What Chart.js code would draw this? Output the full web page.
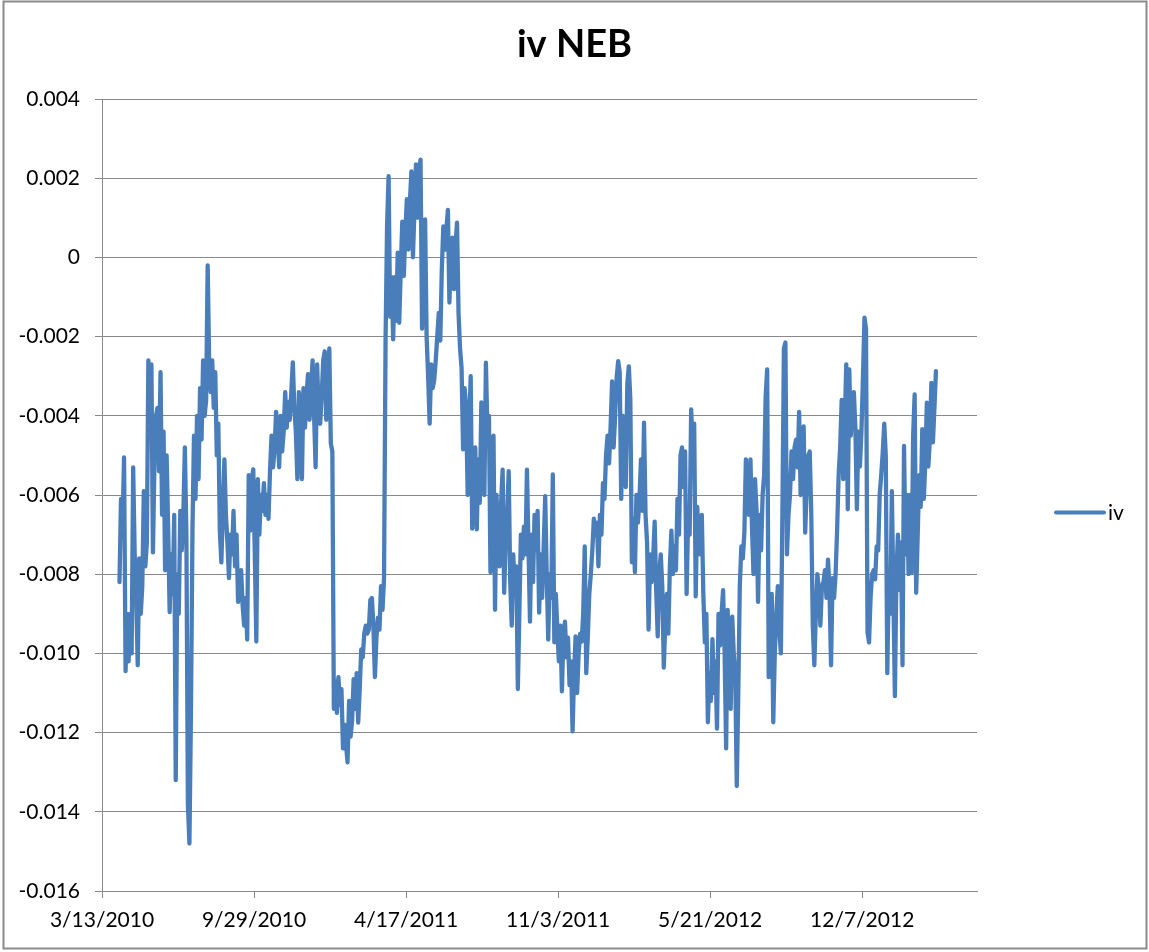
<!DOCTYPE html>
<html>
<head>
<meta charset="utf-8">
<script src="https://cdn.jsdelivr.net/npm/chart.js@4.4.1/dist/chart.umd.min.js"></script>
<style>
  html, body { margin: 0; padding: 0; background: #ffffff; }
  #wrap { width: 1149px; height: 952px; position: relative; }
  canvas { display: block; }
</style>
</head>
<body>
<div id="wrap"><canvas id="chart" width="1149" height="952"></canvas></div>
<script>
// Chart title and series name
const chartTitle = 'iv NEB';
const seriesName = 'iv';

// Date axis: starts on 3/13/2010, labelled every 200 days
const axisStart = '2010-03-13';
const axisLengthDays = 1151;
const tickStepDays = 200;
const tickLabels = ['3/13/2010', '9/29/2010', '4/17/2011', '11/3/2011', '5/21/2012', '12/7/2012'];

// Value axis
const yMin = -0.016;
const yMax = 0.004;
const yStep = 0.002;

// Series: one observation every 2 calendar days from 2010-04-05
const firstDate = '2010-04-05';
const stepDays = 2;
const ivValues = [
  -0.0082, -0.0061, -0.0068, -0.00505, -0.01045, -0.009, -0.0102, -0.009, -0.01, -0.0053, -0.0075, -0.0086,
  -0.0103, -0.0076, -0.009, -0.0083, -0.0059, -0.0078, -0.0072, -0.0026, -0.0038, -0.0027, -0.00745, -0.0052,
  -0.004, -0.0038, -0.0054, -0.0029, -0.0065, -0.0044, -0.0079, -0.005, -0.0068, -0.00896, -0.0075, -0.0085,
  -0.0065, -0.0132, -0.008, -0.009, -0.0064, -0.0074, -0.0065, -0.0048, -0.007, -0.0138, -0.0148, -0.0115,
  -0.0069, -0.0045, -0.0061, -0.004, -0.0056, -0.0033, -0.0046, -0.0026, -0.004, -0.0036, -0.0002, -0.0027,
  -0.0034, -0.0026, -0.0038, -0.0029, -0.005, -0.0042, -0.0069, -0.0077, -0.0064, -0.0051, -0.0065, -0.0072,
  -0.0081, -0.007, -0.0075, -0.0064, -0.0078, -0.007, -0.0087, -0.0084, -0.0079, -0.0088, -0.0093, -0.0086,
  -0.00965, -0.0055, -0.0069, -0.0056, -0.00535, -0.0075, -0.0097, -0.0056, -0.007, -0.006, -0.0064, -0.0057,
  -0.0065, -0.006, -0.0066, -0.0054, -0.0045, -0.0053, -0.00485, -0.0039, -0.0043, -0.0053, -0.004, -0.0049,
  -0.0044, -0.0034, -0.0043, -0.00365, -0.0041, -0.0034, -0.00265, -0.0038, -0.0044, -0.0056, -0.0034, -0.0039,
  -0.0056, -0.0033, -0.0043, -0.0035, -0.00295, -0.0041, -0.0033, -0.0026, -0.004, -0.0053, -0.0027, -0.0039,
  -0.0042, -0.0035, -0.0026, -0.00237, -0.0041, -0.0032, -0.0023, -0.0047, -0.0049, -0.0114, -0.0107, -0.0115,
  -0.0106, -0.0113, -0.0109, -0.0124, -0.0118, -0.0123, -0.01275, -0.0112, -0.0121, -0.0117, -0.01065, -0.0114,
  -0.0105, -0.01175, -0.0109, -0.0099, -0.0101, -0.0095, -0.0093, -0.0095, -0.0094, -0.00865, -0.0086, -0.0093,
  -0.0106, -0.0096, -0.0091, -0.0094, -0.0083, -0.0089, -0.0081, -0.0021, 0.0008, 0.00205, -0.0015, -0.0005,
  -0.00207, -0.0005, -0.0016, 0.00012, -0.00165, -0.0003, 0.0009, -0.00047, 0.0006, 0.00147, 0.0002, 0.0014,
  0.00217, 0, 0.0012, 0.00235, 0.001, 0.0022, 0.00247, -0.0018, -0.0002, 0.00096, -0.002, -0.003,
  -0.0042, -0.0027, -0.0033, -0.0031, -0.0026, -0.002, -0.0014, -0.0021, -0.0003, 0.00078, 0.0002, 0.0007,
  0.0012, -0.00114, 0.0002, 0.0005, -0.0008, 0.0003, 0.00088, -0.0014, -0.0023, -0.0028, -0.00485, -0.0033,
  -0.00375, -0.006, -0.0043, -0.003, -0.00685, -0.0059, -0.0048, -0.00687, -0.0051, -0.0062, -0.00366, -0.005,
  -0.006, -0.00266, -0.0044, -0.004, -0.00795, -0.0054, -0.0045, -0.0089, -0.006, -0.0074, -0.0078, -0.0062,
  -0.00536, -0.00847, -0.0072, -0.0065, -0.0054, -0.0082, -0.0093, -0.0075, -0.0085, -0.0078, -0.0109, -0.009,
  -0.007, -0.0076, -0.0068, -0.0075, -0.00536, -0.0073, -0.0092, -0.007, -0.0082, -0.0065, -0.0074, -0.0064,
  -0.00897, -0.0075, -0.0086, -0.0073, -0.00603, -0.008, -0.00965, -0.008, -0.0086, -0.00548, -0.00972, -0.0085,
  -0.0094, -0.0102, -0.0093, -0.01096, -0.0095, -0.0092, -0.0101, -0.0096, -0.0108, -0.0102, -0.01197, -0.0105,
  -0.00957, -0.011, -0.01, -0.0095, -0.0097, -0.009, -0.0073, -0.0105, -0.0096, -0.0085, -0.008, -0.0074,
  -0.0066, -0.007, -0.0067, -0.0078, -0.0065, -0.007, -0.0057, -0.0061, -0.005, -0.0045, -0.0052, -0.0043,
  -0.00313, -0.0048, -0.004, -0.00303, -0.00262, -0.0029, -0.0061, -0.004, -0.0052, -0.0058, -0.0032, -0.00275,
  -0.0036, -0.0077, -0.0066, -0.00795, -0.006, -0.0067, -0.0061, -0.0051, -0.0064, -0.00417, -0.0065, -0.0072,
  -0.0094, -0.0075, -0.0082, -0.0076, -0.00667, -0.0084, -0.00957, -0.008, -0.0075, -0.0083, -0.01036, -0.0092,
  -0.0085, -0.0095, -0.0078, -0.0069, -0.008, -0.0073, -0.0079, -0.0061, -0.007, -0.005, -0.0048, -0.0058,
  -0.0049, -0.0085, -0.0066, -0.007, -0.00384, -0.0048, -0.0042, -0.00856, -0.0063, -0.0072, -0.0075, -0.0065,
  -0.0085, -0.00972, -0.009, -0.01174, -0.0105, -0.0112, -0.00964, -0.011, -0.0102, -0.0119, -0.009, -0.0098,
  -0.009, -0.0084, -0.01, -0.0124, -0.0089, -0.0102, -0.0114, -0.00907, -0.01, -0.0105, -0.01335, -0.011,
  -0.0083, -0.0073, -0.0076, -0.00695, -0.0051, -0.006, -0.0065, -0.0051, -0.0068, -0.008, -0.0056, -0.0064,
  -0.0087, -0.0065, -0.0074, -0.006, -0.0055, -0.0035, -0.00283, -0.0106, -0.009, -0.0085, -0.01174, -0.01,
  -0.009, -0.0083, -0.0094, -0.01, -0.0065, -0.0023, -0.00215, -0.0075, -0.0065, -0.006, -0.0049, -0.0056,
  -0.0048, -0.0046, -0.0053, -0.0039, -0.006, -0.0048, -0.00427, -0.00695, -0.0058, -0.005, -0.0049, -0.0065,
  -0.0093, -0.0103, -0.009, -0.008, -0.0084, -0.0093, -0.0083, -0.0082, -0.0079, -0.0086, -0.00763, -0.0084,
  -0.0103, -0.0081, -0.0086, -0.008, -0.00687, -0.0055, -0.0048, -0.0036, -0.0056, -0.0043, -0.0027, -0.00636,
  -0.00283, -0.0045, -0.0038, -0.0034, -0.0043, -0.00636, -0.0044, -0.00528, -0.0044, -0.003, -0.00152, -0.0018,
  -0.00947, -0.00972, -0.0086, -0.008, -0.0079, -0.00813, -0.0073, -0.0074, -0.006, -0.0055, -0.00493, -0.0042,
  -0.005, -0.0105, -0.008, -0.009, -0.0059, -0.0085, -0.01108, -0.008, -0.007, -0.0084, -0.0072, -0.0103,
  -0.00476, -0.0075, -0.006, -0.008, -0.006, -0.00797, -0.0045, -0.00346, -0.00847, -0.007, -0.0055, -0.0063,
  -0.00434, -0.0061, -0.0052, -0.00367, -0.00528, -0.0046, -0.00317, -0.00467, -0.0038, -0.00287
];

// Styling
const lineColor = '#4a7ebb';
const gridColor = '#898989';
const textColor = '#000000';
const fontFamily = 'Lato, "Liberation Sans", sans-serif';
const legendColumnWidth = 172;

const DAY_MS = 86400000;
function dayOffset(iso) {
  return Math.round((Date.parse(iso + 'T00:00:00Z') - Date.parse(axisStart + 'T00:00:00Z')) / DAY_MS);
}
const firstOffset = dayOffset(firstDate);
const points = ivValues.map((v, i) => ({ x: firstOffset + i * stepDays, y: v }));

// White background and the outer chart frame
const framePlugin = {
  id: 'frame',
  beforeDraw(chart) {
    const ctx = chart.ctx;
    ctx.save();
    ctx.fillStyle = '#ffffff';
    ctx.fillRect(0, 0, chart.width, chart.height);
    ctx.restore();
  },
  afterDraw(chart) {
    const ctx = chart.ctx;
    ctx.save();
    ctx.strokeStyle = '#8a8a8a';
    ctx.lineWidth = 2;
    ctx.strokeRect(3.5, 1.5, chart.width - 6, chart.height - 5);
    ctx.restore();
  }
};

// Legend on the right: a line sample followed by the series name
const sideLegendPlugin = {
  id: 'sideLegend',
  afterDraw(chart) {
    const ctx = chart.ctx;
    const ca = chart.chartArea;
    const ds = chart.data.datasets[0];
    const x0 = ca.right + 79;
    const y0 = ca.top + (ca.bottom - ca.top) * 0.522;
    ctx.save();
    ctx.strokeStyle = ds.borderColor;
    ctx.lineWidth = 4;
    ctx.lineCap = 'round';
    ctx.beginPath();
    ctx.moveTo(x0, y0);
    ctx.lineTo(x0 + 48, y0);
    ctx.stroke();
    ctx.fillStyle = textColor;
    ctx.font = '21px ' + fontFamily;
    ctx.textAlign = 'left';
    ctx.textBaseline = 'middle';
    ctx.fillText(ds.label, x0 + 52, y0 + 1);
    ctx.restore();
  }
};

new Chart(document.getElementById('chart'), {
  type: 'line',
  data: {
    datasets: [{
      label: seriesName,
      data: points,
      borderColor: lineColor,
      backgroundColor: lineColor,
      borderWidth: 4.3,
      borderJoinStyle: 'round',
      borderCapStyle: 'round',
      pointRadius: 0,
      pointHoverRadius: 0,
      tension: 0,
      fill: false
    }]
  },
  options: {
    responsive: false,
    animation: false,
    devicePixelRatio: 1,
    layout: { padding: { left: 0, right: 0, top: 0, bottom: 9 } },
    plugins: {
      legend: { display: false },
      tooltip: { enabled: false },
      title: {
        display: true,
        text: chartTitle,
        color: textColor,
        font: { family: fontFamily, size: 38, weight: 'bold' },
        padding: { top: 22, bottom: 31.4 }
      }
    },
    scales: {
      x: {
        type: 'linear',
        min: 0,
        max: axisLengthDays,
        afterFit(scale) { scale.height = 52; },
        grid: {
          display: true,
          drawOnChartArea: false,
          drawTicks: true,
          tickLength: 7,
          color: gridColor,
          lineWidth: 1
        },
        border: { display: true, color: gridColor, width: 1 },
        ticks: {
          stepSize: tickStepDays,
          includeBounds: false,
          autoSkip: false,
          maxRotation: 0,
          minRotation: 0,
          padding: 10,
          color: textColor,
          font: { family: fontFamily, size: 21 },
          callback(value) {
            const k = Math.round(value / tickStepDays);
            return tickLabels[k] !== undefined ? tickLabels[k] : '';
          }
        }
      },
      y: {
        type: 'linear',
        min: yMin,
        max: yMax,
        afterFit(scale) { scale.width = 102; },
        grid: {
          display: true,
          drawTicks: true,
          tickLength: 7,
          color: gridColor,
          lineWidth: 1
        },
        border: { display: true, color: gridColor, width: 1 },
        ticks: {
          stepSize: yStep,
          padding: 15,
          color: textColor,
          font: { family: fontFamily, size: 21 },
          callback(value) {
            return Math.abs(value) < 1e-9 ? '0' : value.toFixed(3);
          }
        }
      },
      // Empty column on the right that holds the legend
      legendColumn: {
        type: 'linear',
        position: 'right',
        display: true,
        min: yMin,
        max: yMax,
        afterFit(scale) { scale.width = legendColumnWidth; },
        grid: { display: false, drawTicks: false },
        border: { display: false },
        ticks: { display: false }
      }
    }
  },
  plugins: [framePlugin, sideLegendPlugin]
});
</script>
</body>
</html>
